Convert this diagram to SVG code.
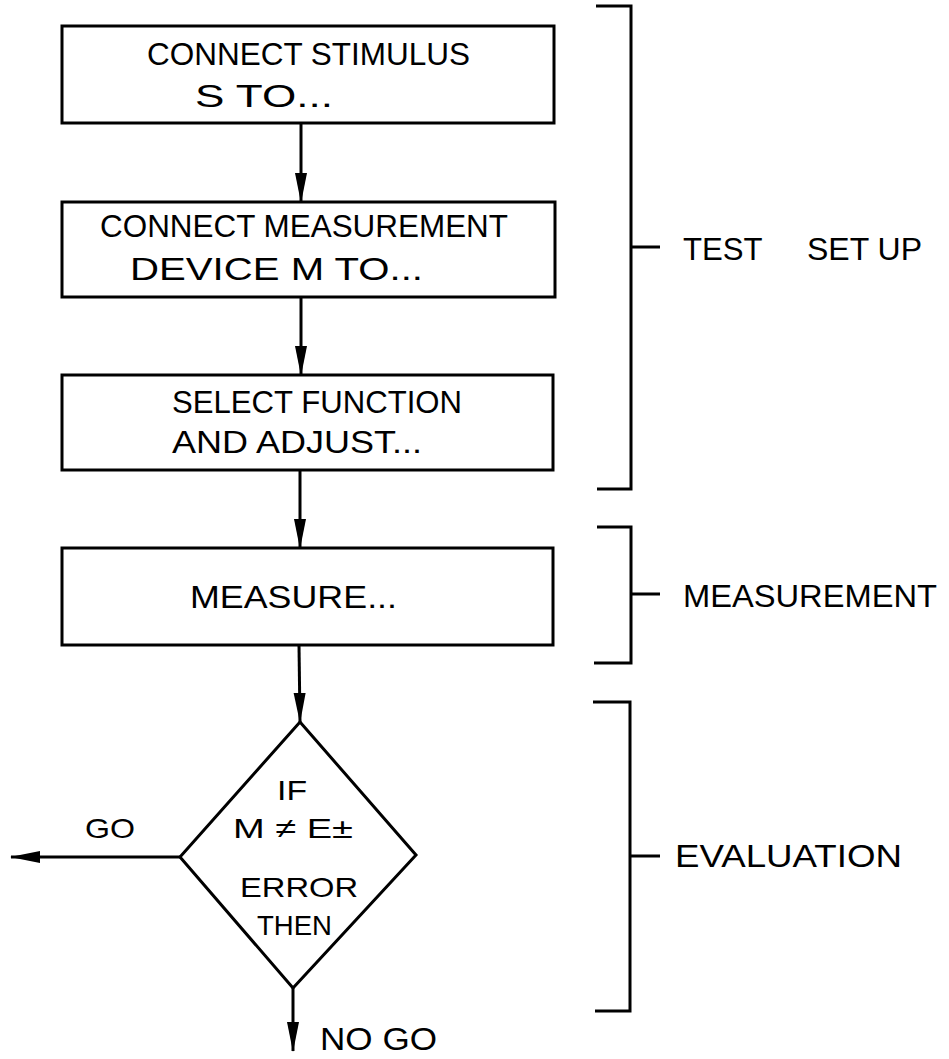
<svg xmlns="http://www.w3.org/2000/svg" width="949" height="1059" viewBox="0 0 949 1059">
<style>
  .shape{fill:none;stroke:#000;stroke-width:3;stroke-linejoin:miter}
  .line{fill:none;stroke:#000;stroke-width:3}
  .lbl{font-family:"Liberation Sans","DejaVu Sans",sans-serif;font-size:31px;fill:#000}
  .sm{font-size:28px}
</style>
<defs>
  <marker id="arrow" viewBox="0 0 30 14" refX="29" refY="7" markerWidth="30" markerHeight="14" markerUnits="userSpaceOnUse" orient="auto">
    <path d="M0,1 L30,7 L0,13 Z" fill="#000"/>
  </marker>
</defs>
<rect width="949" height="1059" fill="#fff"/>

<g id="connectors">
  <path class="line" d="M301 123 L301 202" marker-end="url(#arrow)"/>
  <path class="line" d="M301 297 L301 375" marker-end="url(#arrow)"/>
  <path class="line" d="M300 470 L300 548" marker-end="url(#arrow)"/>
  <path class="line" d="M299 645 L300 722" marker-end="url(#arrow)"/>
  <path class="line" d="M180 857 L11 857" marker-end="url(#arrow)"/>
  <path class="line" d="M293 988 L293 1051" marker-end="url(#arrow)"/>
</g>

<g id="node-connect-stimulus">
  <rect class="shape" x="62" y="26" width="492" height="97"/>
  <text class="lbl" x="147" y="65" textLength="323" lengthAdjust="spacingAndGlyphs">CONNECT STIMULUS</text>
  <text class="lbl" x="195" y="107" textLength="138" lengthAdjust="spacingAndGlyphs">S TO...</text>
</g>

<g id="node-connect-measurement">
  <rect class="shape" x="62" y="202" width="493" height="95"/>
  <text class="lbl" x="100" y="237" textLength="408" lengthAdjust="spacingAndGlyphs">CONNECT MEASUREMENT</text>
  <text class="lbl" x="130" y="280" textLength="293" lengthAdjust="spacingAndGlyphs">DEVICE M TO...</text>
</g>

<g id="node-select-function">
  <rect class="shape" x="62" y="375" width="491" height="95"/>
  <text class="lbl" x="172" y="413" textLength="290" lengthAdjust="spacingAndGlyphs">SELECT FUNCTION</text>
  <text class="lbl" x="172" y="453" textLength="250" lengthAdjust="spacingAndGlyphs">AND ADJUST...</text>
</g>

<g id="node-measure">
  <rect class="shape" x="62" y="548" width="491" height="97"/>
  <text class="lbl" x="190" y="608" textLength="207" lengthAdjust="spacingAndGlyphs">MEASURE...</text>
</g>

<g id="node-decision">
  <path class="shape" d="M300 722 L416 855 L293 988 L180 857 Z"/>
  <text class="lbl sm" x="277" y="800" textLength="30" lengthAdjust="spacingAndGlyphs">IF</text>
  <text class="lbl sm" x="233" y="838" textLength="120" lengthAdjust="spacingAndGlyphs">M ≠ E±</text>
  <text class="lbl sm" x="240" y="897" textLength="118" lengthAdjust="spacingAndGlyphs">ERROR</text>
  <text class="lbl sm" x="257" y="935" textLength="75" lengthAdjust="spacingAndGlyphs">THEN</text>
</g>

<g id="label-go">
  <text class="lbl sm" x="85" y="838" textLength="50" lengthAdjust="spacingAndGlyphs">GO</text>
</g>
<g id="label-nogo">
  <text class="lbl" x="320" y="1050" textLength="117" lengthAdjust="spacingAndGlyphs">NO GO</text>
</g>

<g id="bracket-test-setup">
  <path class="line" d="M596 6 L631 6 L631 489 L597 489 M631 247 L660 247"/>
  <text class="lbl" y="260"><tspan x="683" textLength="79" lengthAdjust="spacingAndGlyphs">TEST</tspan> <tspan x="807" textLength="115" lengthAdjust="spacingAndGlyphs">SET UP</tspan></text>
</g>

<g id="bracket-measurement">
  <path class="line" d="M597 527 L631 527 L631 663 L594 663 M631 594 L660 594"/>
  <text class="lbl" x="683" y="607" textLength="254" lengthAdjust="spacingAndGlyphs">MEASUREMENT</text>
</g>

<g id="bracket-evaluation">
  <path class="line" d="M593 702 L630 702 L630 1011 L595 1011 M630 856 L660 856"/>
  <text class="lbl" x="675" y="867" textLength="227" lengthAdjust="spacingAndGlyphs">EVALUATION</text>
</g>
</svg>
